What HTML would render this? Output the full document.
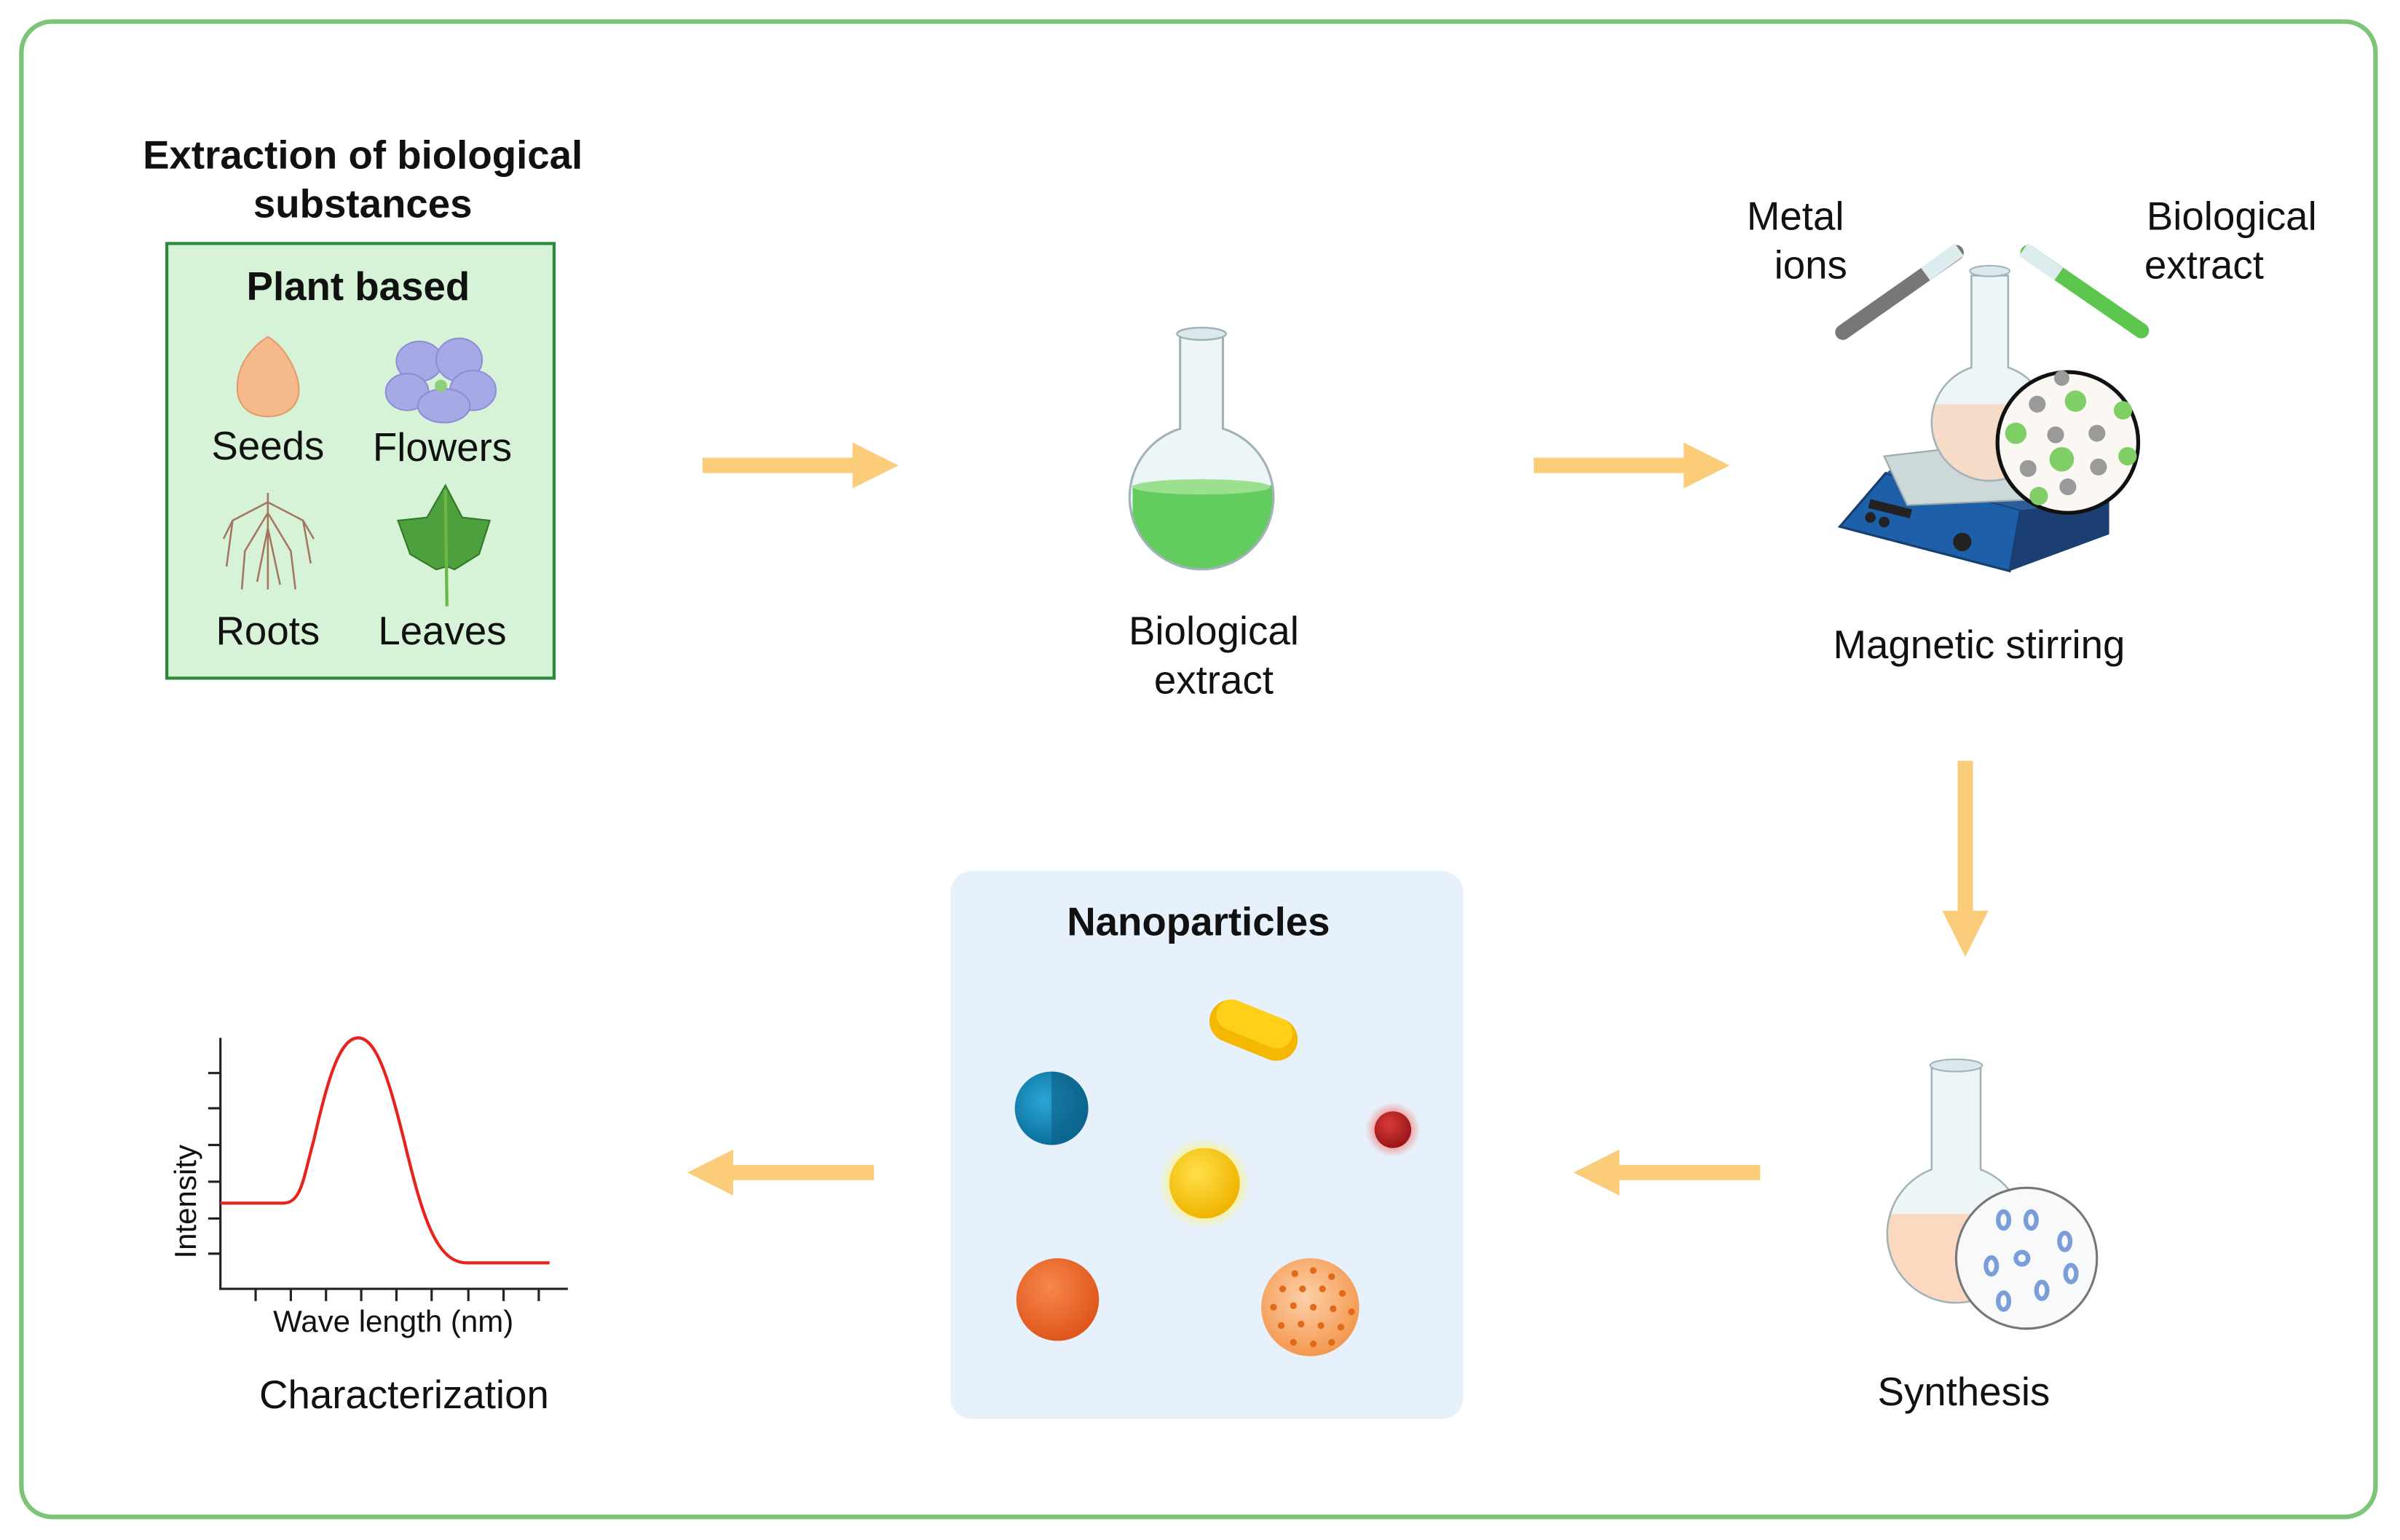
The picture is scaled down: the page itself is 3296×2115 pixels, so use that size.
<!DOCTYPE html>
<html><head><meta charset="utf-8"><style>
html,body{margin:0;padding:0;background:#fff;}
svg{display:block;}
text{font-family:"Liberation Sans",sans-serif;fill:#111;}
</style></head><body>
<svg width="3296" height="2115" viewBox="0 0 1568 1006" xmlns="http://www.w3.org/2000/svg">
<defs>
<radialGradient id="gBlue" cx="0.4" cy="0.4" r="0.6"><stop offset="0" stop-color="#2aa7d6"/><stop offset="1" stop-color="#0b6e9c"/></radialGradient>
<radialGradient id="gYel" cx="0.4" cy="0.35" r="0.65"><stop offset="0" stop-color="#ffe04a"/><stop offset="1" stop-color="#f0b400"/></radialGradient>
<radialGradient id="gGlow" cx="0.5" cy="0.5" r="0.5"><stop offset="0.6" stop-color="#fff27a"/><stop offset="1" stop-color="#fff27a" stop-opacity="0"/></radialGradient>
<radialGradient id="gRed" cx="0.4" cy="0.35" r="0.65"><stop offset="0" stop-color="#d83a3a"/><stop offset="1" stop-color="#9a1616"/></radialGradient>
<radialGradient id="gRedGlow" cx="0.5" cy="0.5" r="0.5"><stop offset="0.6" stop-color="#f0a0a0"/><stop offset="1" stop-color="#f0a0a0" stop-opacity="0"/></radialGradient>
<radialGradient id="gOr" cx="0.4" cy="0.35" r="0.65"><stop offset="0" stop-color="#f6874a"/><stop offset="1" stop-color="#e0561c"/></radialGradient>
<radialGradient id="gOr2" cx="0.45" cy="0.4" r="0.6"><stop offset="0" stop-color="#fcd0a8"/><stop offset="1" stop-color="#f49850"/></radialGradient>
<clipPath id="f1"><path d="M771,219 V280 A47 47 0 1 0 799,280 V219 Z"/></clipPath>
<clipPath id="f2"><path d="M1288,180 V240 A38 38 0 1 0 1312,240 V180 Z"/></clipPath>
<clipPath id="f3"><path d="M1262,698 V764 A45 45 0 1 0 1294,764 V698 Z"/></clipPath>
</defs>

<!-- outer border -->
<rect x="14" y="14" width="1538" height="977" rx="20" fill="#fff" stroke="#7cc576" stroke-width="3"/>

<!-- title -->
<text x="237" y="110" font-size="26" font-weight="bold" text-anchor="middle">Extraction of biological</text>
<text x="237" y="142" font-size="26" font-weight="bold" text-anchor="middle">substances</text>

<!-- plant box -->
<rect x="109" y="159" width="253" height="284" fill="#d6f2d7" stroke="#2b8a37" stroke-width="2"/>
<text x="234" y="196" font-size="26" font-weight="bold" text-anchor="middle">Plant based</text>
<!-- seed -->
<path d="M175,220 C186,226 197,245 195,258 C193,268 184,272 175,272 C164,272 155,266 155,253 C155,238 165,226 175,220 Z" fill="#f6b98c" stroke="#e59a6a" stroke-width="1"/>
<!-- flower -->
<g fill="#a7a8e6" stroke="#8c8fd6" stroke-width="1">
<ellipse cx="274" cy="236" rx="15" ry="13"/>
<ellipse cx="300" cy="235" rx="15" ry="14"/>
<ellipse cx="309" cy="255" rx="15" ry="13"/>
<ellipse cx="266" cy="256" rx="14" ry="12"/>
<ellipse cx="290" cy="265" rx="17" ry="11"/>
</g>
<circle cx="288" cy="252" r="4" fill="#8fcf7a"/>
<text x="175" y="300" font-size="26" text-anchor="middle">Seeds</text>
<text x="289" y="301" font-size="26" text-anchor="middle">Flowers</text>
<!-- roots -->
<g stroke="#a57560" stroke-width="1.2" fill="none">
<path d="M175,322 L175,385"/><path d="M175,328 L152,340 L148,370"/><path d="M175,328 L198,340 L203,368"/>
<path d="M175,335 L160,360 L158,385"/><path d="M175,335 L190,360 L193,385"/><path d="M175,345 L168,380"/><path d="M175,345 L183,382"/>
<path d="M152,340 L146,352"/><path d="M198,340 L205,352"/>
</g>
<!-- leaf -->
<path d="M291,317 L302,338 L320,340 L313,362 L297,372 L292,370 L285,372 L268,362 L260,340 L279,338 Z" fill="#4e9f3d" stroke="#2f7a25" stroke-width="1"/>
<path d="M291,320 L292,396" stroke="#6cb546" stroke-width="2"/>
<text x="175" y="421" font-size="26" text-anchor="middle">Roots</text>
<text x="289" y="421" font-size="26" text-anchor="middle">Leaves</text>

<!-- arrows -->
<g fill="#fbcd7a">
<path d="M459,299 H557 V289 L587,304 L557,319 V309 H459 Z"/>
<path d="M1002,299 H1100 V289 L1130,304 L1100,319 V309 H1002 Z"/>
<path d="M1279,497 V595 H1269 L1284,625 L1299,595 H1289 V497 Z"/>
<path d="M1150,761 H1058 V751 L1028,766 L1058,781 V771 H1150 Z"/>
<path d="M571,761 H479 V751 L449,766 L479,781 V771 H571 Z"/>
</g>

<!-- flask 1 -->
<path d="M771,219 V280 A47 47 0 1 0 799,280 V219 Z" fill="#eef5f7"/>
<rect x="740" y="317" width="100" height="60" fill="#62cc5e" clip-path="url(#f1)"/>
<ellipse cx="785" cy="318" rx="45" ry="5" fill="#9ae08e"/>
<path d="M771,219 V280 A47 47 0 1 0 799,280 V219 Z" fill="none" stroke="#9fb3b8" stroke-width="1.5"/>
<ellipse cx="785" cy="218" rx="16" ry="4" fill="#dbe8ec" stroke="#9fb3b8" stroke-width="1.2"/>
<text x="793" y="421" font-size="26" text-anchor="middle">Biological</text>
<text x="793" y="453" font-size="26" text-anchor="middle">extract</text>

<!-- magnetic stirring -->
<text x="1173" y="150" font-size="26" text-anchor="middle">Metal</text>
<text x="1183" y="182" font-size="26" text-anchor="middle">ions</text>
<text x="1458" y="150" font-size="26" text-anchor="middle">Biological</text>
<text x="1440" y="182" font-size="26" text-anchor="middle">extract</text>
<!-- tubes -->
<line x1="1204" y1="217" x2="1278" y2="165" stroke="#777" stroke-width="10" stroke-linecap="round"/>
<line x1="1258" y1="179" x2="1280" y2="163" stroke="#dcecef" stroke-width="10"/>
<line x1="1399" y1="216" x2="1325" y2="165" stroke="#5cc64e" stroke-width="10" stroke-linecap="round"/>
<line x1="1345" y1="179" x2="1322" y2="163" stroke="#dcecef" stroke-width="10"/>
<!-- stirrer body -->
<polygon points="1202,344 1232,309 1320,333 1313,373" fill="#1d5fa8" stroke="#173f6e" stroke-width="1.5"/>
<polygon points="1320,333 1378,326 1378,349 1313,373" fill="#1b3f72"/>
<polygon points="1232,309 1245,300 1378,320 1378,326 1320,333" fill="#2a5d9a"/>
<polygon points="1231,298 1300,290 1336,326 1246,330" fill="#ccd8da" stroke="#9aa8aa" stroke-width="1"/>
<rect x="1222" y="326" width="28" height="6" fill="#222" transform="rotate(14 1222 326)"/>
<circle cx="1222" cy="338" r="3.5" fill="#222"/><circle cx="1231" cy="341" r="3.5" fill="#222"/>
<circle cx="1282" cy="354" r="6" fill="#222"/>
<!-- stirrer flask -->
<path d="M1288,180 V240 A38 38 0 1 0 1312,240 V180 Z" fill="#eef5f7"/>
<rect x="1250" y="264" width="100" height="60" fill="#f6dcc8" clip-path="url(#f2)"/>
<path d="M1288,180 V240 A38 38 0 1 0 1312,240 V180 Z" fill="none" stroke="#9fb3b8" stroke-width="1.2"/>
<ellipse cx="1300" cy="177" rx="13" ry="3.5" fill="#dbe8ec" stroke="#9fb3b8"/>
<!-- inset -->
<circle cx="1351" cy="289" r="46" fill="#fbf8f3" stroke="#111" stroke-width="2.5"/>
<g fill="#9a9a9a"><circle cx="1331" cy="264" r="5.5"/><circle cx="1343" cy="284" r="5.5"/><circle cx="1370" cy="283" r="5.5"/><circle cx="1325" cy="306" r="5.5"/><circle cx="1371" cy="305" r="5.5"/><circle cx="1351" cy="318" r="5.5"/><circle cx="1347" cy="247" r="5"/></g>
<g fill="#7fcf66"><circle cx="1356" cy="262" r="7"/><circle cx="1317" cy="283" r="7"/><circle cx="1347" cy="300" r="8"/><circle cx="1387" cy="268" r="6"/><circle cx="1390" cy="298" r="6"/><circle cx="1332" cy="324" r="6"/></g>
<text x="1293" y="430" font-size="26" text-anchor="middle">Magnetic stirring</text>

<!-- synthesis -->
<path d="M1262,698 V764 A45 45 0 1 0 1294,764 V698 Z" fill="#eef5f7"/>
<rect x="1220" y="793" width="120" height="70" fill="#fbd8bf" clip-path="url(#f3)"/>
<path d="M1262,698 V764 A45 45 0 1 0 1294,764 V698 Z" fill="none" stroke="#9fb3b8" stroke-width="1.2"/>
<ellipse cx="1278" cy="696" rx="17" ry="4" fill="#dbe8ec" stroke="#9fb3b8"/>
<circle cx="1324" cy="822" r="46" fill="#f7f9fb" stroke="#777" stroke-width="1.5"/>
<g fill="none" stroke="#7b9ed8" stroke-width="3">
<ellipse cx="1309" cy="797" rx="3.5" ry="5.5"/><ellipse cx="1327" cy="797" rx="3.5" ry="5.5"/><ellipse cx="1349" cy="811" rx="3.5" ry="5.5"/>
<ellipse cx="1301" cy="827" rx="3.5" ry="5.5"/><ellipse cx="1321" cy="822" rx="4" ry="4"/><ellipse cx="1353" cy="832" rx="3.5" ry="5.5"/>
<ellipse cx="1309" cy="850" rx="3.5" ry="5.5"/><ellipse cx="1334" cy="843" rx="3.5" ry="5.5"/>
</g>
<text x="1283" y="918" font-size="26" text-anchor="middle">Synthesis</text>

<!-- nanoparticles box -->
<rect x="621" y="569" width="335" height="358" rx="14" fill="#e6f1fc"/>
<text x="783" y="611" font-size="26" font-weight="bold" text-anchor="middle">Nanoparticles</text>
<rect x="789" y="659" width="60" height="28" rx="14" fill="#f5b800" transform="rotate(22 819 673)"/>
<rect x="792" y="659" width="52" height="20" rx="10" fill="#ffcf1a" transform="rotate(22 819 673)"/>
<circle cx="687" cy="724" r="24" fill="url(#gBlue)"/>
<path d="M687,700 A24 24 0 0 1 687,748 Z" fill="#0b5f86" opacity="0.6"/>
<circle cx="787" cy="773" r="30" fill="url(#gGlow)"/>
<circle cx="787" cy="773" r="23" fill="url(#gYel)"/>
<circle cx="910" cy="738" r="18" fill="url(#gRedGlow)"/>
<circle cx="910" cy="738" r="12" fill="url(#gRed)"/>
<circle cx="691" cy="849" r="27" fill="url(#gOr)"/>
<circle cx="856" cy="854" r="32" fill="url(#gOr2)"/>
<g fill="#e06a18">
<circle cx="846" cy="832" r="2.2"/><circle cx="858" cy="830" r="2.2"/><circle cx="870" cy="834" r="2.2"/><circle cx="838" cy="842" r="2.2"/><circle cx="851" cy="842" r="2.2"/><circle cx="864" cy="842" r="2.2"/><circle cx="877" cy="845" r="2.2"/>
<circle cx="832" cy="854" r="2.2"/><circle cx="845" cy="853" r="2.2"/><circle cx="858" cy="854" r="2.2"/><circle cx="871" cy="855" r="2.2"/><circle cx="883" cy="857" r="2.2"/>
<circle cx="837" cy="866" r="2.2"/><circle cx="850" cy="865" r="2.2"/><circle cx="863" cy="866" r="2.2"/><circle cx="876" cy="867" r="2.2"/><circle cx="845" cy="877" r="2.2"/><circle cx="858" cy="878" r="2.2"/><circle cx="870" cy="877" r="2.2"/>
</g>

<!-- chart -->
<g stroke="#222" stroke-width="1.5" fill="none">
<path d="M144,678 V842 H371"/>
<path d="M136,701 H144 M136,724 H144 M136,748 H144 M136,772 H144 M136,796 H144 M136,819 H144"/>
<path d="M167,842 V850 M190,842 V850 M213,842 V850 M236,842 V850 M259,842 V850 M282,842 V850 M306,842 V850 M329,842 V850 M352,842 V850"/>
</g>
<path d="M144,786 H185 C197,786 198,770 205,745 C214,705 222,678 234,678 C246,678 254,705 264,745 C276,795 285,825 305,825 H359" stroke="#e8221c" stroke-width="2" fill="none"/>
<text x="128" y="785" font-size="20" text-anchor="middle" transform="rotate(-90 128 785)">Intensity</text>
<text x="257" y="870" font-size="20" text-anchor="middle">Wave length (nm)</text>
<text x="264" y="920" font-size="26" text-anchor="middle">Characterization</text>
</svg>
</body></html>
